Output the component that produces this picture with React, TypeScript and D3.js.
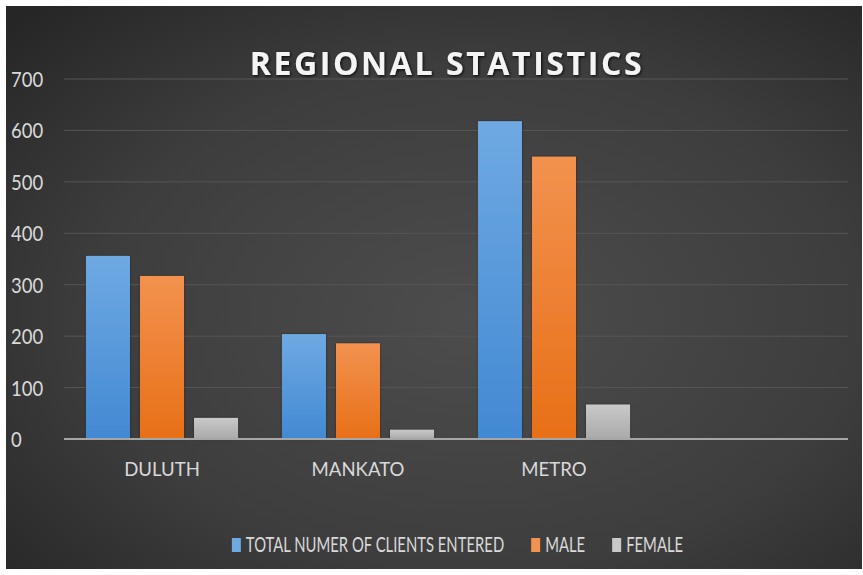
import * as React from 'react'
import * as d3 from 'd3'

const categories = ['DULUTH', 'MANKATO', 'METRO', '']
const seriesNames = ['TOTAL NUMER OF CLIENTS ENTERED', 'MALE', 'FEMALE']
const totalClients = [356, 204, 618]
const maleClients = [317, 186, 549]
const femaleClients = [41, 18, 67]
const yTicks = [0, 100, 200, 300, 400, 500, 600, 700]

const seriesValues = [totalClients, maleClients, femaleClients]
const seriesColors = [
    { top: '#6fa9e2', bottom: '#4289d3', key: 'blue' },
    { top: '#f2924f', bottom: '#e86f17', key: 'orange' },
    { top: '#c9c9c9', bottom: '#a9a9a9', key: 'gray' },
]

const W = 863
const H = 575
const FONT = 'Lato, "Open Sans", sans-serif'

export default class App extends React.Component<{}, {}> {
    private node: SVGSVGElement | null = null

    componentDidMount() {
        this.draw()
    }

    componentDidUpdate() {
        this.draw()
    }

    private draw(): void {
        if (!this.node)
            return

        const svg = d3.select(this.node)
        svg.selectAll('*').remove()

        const defs = svg.append('defs')

        const bg = defs.append('radialGradient')
            .attr('id', 'bg')
            .attr('cx', '0.55').attr('cy', '0.55').attr('r', '0.75')
        bg.append('stop').attr('offset', '0').attr('stop-color', '#4d4d4d')
        bg.append('stop').attr('offset', '0.6').attr('stop-color', '#3d3d3d')
        bg.append('stop').attr('offset', '1').attr('stop-color', '#262626')

        for (const c of seriesColors) {
            const lg = defs.append('linearGradient')
                .attr('id', 'g-' + c.key)
                .attr('x1', 0).attr('y1', 0).attr('x2', 0).attr('y2', 1)
            lg.append('stop').attr('offset', '0').attr('stop-color', c.top)
            lg.append('stop').attr('offset', '1').attr('stop-color', c.bottom)
        }

        const shadow = defs.append('filter').attr('id', 'shadow')
            .attr('x', '-20%').attr('y', '-40%').attr('width', '140%').attr('height', '180%')
        shadow.append('feDropShadow')
            .attr('dx', 1).attr('dy', 1).attr('stdDeviation', 1.6)
            .attr('flood-color', '#000').attr('flood-opacity', 0.9)

        const barShadow = defs.append('filter').attr('id', 'barShadow')
            .attr('x', '-10%').attr('y', '-10%').attr('width', '120%').attr('height', '120%')
        barShadow.append('feDropShadow')
            .attr('dx', 0).attr('dy', 0).attr('stdDeviation', 1)
            .attr('flood-color', '#000').attr('flood-opacity', 0.5)

        // page + chart area
        svg.append('rect').attr('width', W).attr('height', H).attr('fill', '#fff')
        svg.append('rect')
            .attr('x', 6).attr('y', 6)
            .attr('width', 856).attr('height', 563)
            .attr('fill', 'url(#bg)')

        const x = d3.scaleBand<string>()
            .domain(categories)
            .range([64, 848])

        const xSub = d3.scaleBand<number>()
            .domain(d3.range(seriesNames.length))
            .range([0, x.bandwidth()])
            .paddingInner(0.185)
            .paddingOuter(0.407)

        const y = d3.scaleLinear()
            .domain([0, 700])
            .range([439, 79])

        // gridlines
        svg.append('g')
            .selectAll('line')
            .data(yTicks.filter(t => t > 0))
            .enter().append('line')
            .attr('x1', 64).attr('x2', 848)
            .attr('y1', d => y(d)).attr('y2', d => y(d))
            .attr('stroke', '#565656')
            .attr('stroke-width', 1)

        // y labels
        svg.append('g')
            .selectAll('text')
            .data(yTicks)
            .enter().append('text')
            .attr('transform', d => `translate(11,${y(d) + 8}) scale(0.88,1)`)
            .attr('font-family', FONT)
            .attr('font-size', 21)
            .attr('fill', '#d9d9d9')
            .text(d => d)

        // bars
        const groups = svg.append('g')
            .selectAll('g')
            .data(categories.slice(0, totalClients.length))
            .enter().append('g')
            .attr('transform', d => `translate(${x(d)},0)`)

        groups.selectAll('rect')
            .data((_, i) => seriesValues.map((vals, s) => ({ s, v: vals[i] })))
            .enter().append('rect')
            .attr('x', d => xSub(d.s)!)
            .attr('width', xSub.bandwidth())
            .attr('y', d => y(d.v))
            .attr('height', d => y(0) - y(d.v))
            .attr('fill', d => `url(#g-${seriesColors[d.s].key})`)
            .attr('filter', 'url(#barShadow)')

        // baseline
        svg.append('line')
            .attr('x1', 64).attr('x2', 848)
            .attr('y1', y(0)).attr('y2', y(0))
            .attr('stroke', '#a6a6a6')
            .attr('stroke-width', 2)

        // category labels
        svg.append('g')
            .selectAll('text')
            .data(categories)
            .enter().append('text')
            .attr('transform', d => `translate(${x(d)! + x.bandwidth() / 2},476) scale(0.93,1)`)
            .attr('text-anchor', 'middle')
            .attr('font-family', FONT)
            .attr('font-size', 20)
            .attr('fill', '#d9d9d9')
            .text(d => d)

        // title
        svg.append('text')
            .attr('x', 447).attr('y', 75)
            .attr('text-anchor', 'middle')
            .attr('font-family', '"Open Sans", sans-serif')
            .attr('font-weight', 700)
            .attr('font-size', 32)
            .attr('letter-spacing', 2.6)
            .attr('fill', '#f4f4f4')
            .attr('filter', 'url(#shadow)')
            .text('REGIONAL STATISTICS')

        // legend
        const sx = 0.69
        const legend = svg.append('g')
        let cursor = 0
        seriesNames.forEach((name, i) => {
            const item = legend.append('g').attr('transform', `translate(${cursor},0)`)
            item.append('rect')
                .attr('x', 0).attr('y', 538)
                .attr('width', 9).attr('height', 14)
                .attr('fill', seriesColors[i].top)
            const t = item.append('text')
                .attr('transform', `translate(14,552) scale(${sx},1)`)
                .attr('font-family', FONT)
                .attr('font-size', 21.5)
                .attr('fill', '#d9d9d9')
                .text(name)
            const w = (t.node() as SVGTextElement).getComputedTextLength() * sx
            cursor += 14 + w + 27
        })
        const legendWidth = cursor - 27
        legend.attr('transform', `translate(${457.5 - legendWidth / 2},0)`)
    }

    render() {
        return (
            <svg
                width={W}
                height={H}
                style={{ position: 'absolute', left: 0, top: 0 }}
                ref={node => { this.node = node }} />
        )
    }
}
